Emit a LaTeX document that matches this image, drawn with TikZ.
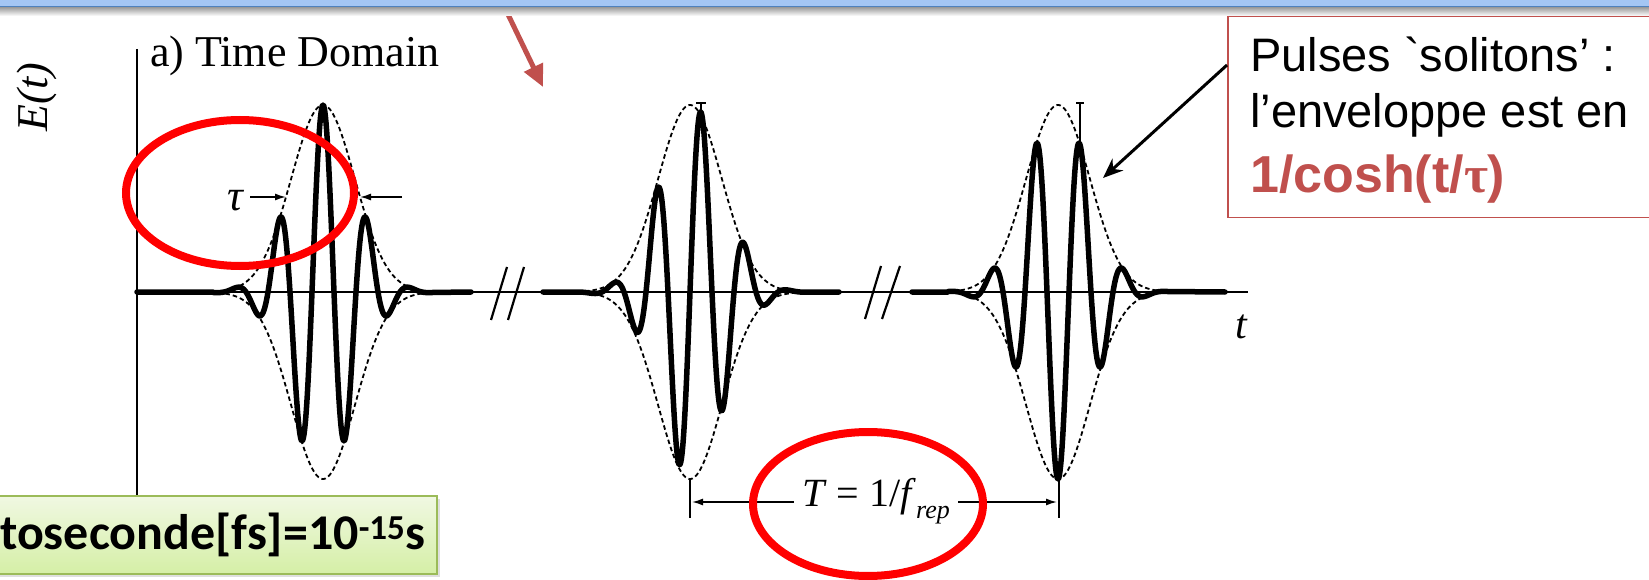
\documentclass[tikz,border=0pt]{standalone}
\usepackage{fontspec}
\setmainfont{Liberation Serif}
\newfontfamily\arialfont{Liberation Sans}
\newfontfamily\calibrifont{Carlito}
\usetikzlibrary{arrows.meta,shadows}
\definecolor{redbrown}{HTML}{C0504D}
\definecolor{ringred}{HTML}{FF0000}
\definecolor{bandblue}{HTML}{A4C6F4}
\definecolor{bandline}{HTML}{4F81BD}
\definecolor{greenfillA}{HTML}{F0F8E2}
\definecolor{greenfillB}{HTML}{D5EFA6}
\definecolor{greenedge}{HTML}{9BBB59}
\begin{document}
\begin{tikzpicture}[x=1pt,y=-1pt,
  declare function={genv(\t)=exp(-(\t*\t)/2025); carr(\t)=cos(8.181818*\t);},
  signal/.style={line width=5.5pt, line join=round, line cap=round},
  envel/.style={line width=1.8pt, dash pattern=on 4.5pt off 3pt},
  axisline/.style={line width=1.8pt},
  ring/.style={draw=ringred, line width=8pt},
  thinarrow/.style={line width=1.5pt, -{Latex[length=11pt,width=7pt]}},
  breakmark/.style={line width=2.2pt},
  figlabel/.style={inner sep=0pt, font=\fontsize{44}{50}\selectfont},
  boxtext/.style={inner sep=0pt, anchor=base west, font=\arialfont\fontsize{47}{56}\selectfont}]
\useasboundingbox (0,0) rectangle (1649,580);
\clip (0,0) rectangle (1649,580);

% axes
\draw[axisline] (137,49) -- (137,495);
\draw[axisline] (137,292) -- (1248,292);

% labels of the figure
\node[figlabel, anchor=base west] (title) at (150,67) {a) Time Domain};
\node[figlabel, rotate=90, font=\fontsize{44}{50}\selectfont\itshape] (Elab) at (37,97) {E(t)};
\node[figlabel, font=\fontsize{42}{48}\selectfont\itshape] (tlab) at (1241,327) {t};

% envelopes
\foreach \c in {323,690,1058}{
  \draw[envel] plot[domain={\c-105}:{\c+105}, samples=120] (\x,{292-187*genv(\x-\c)});
  \draw[envel] plot[domain={\c-105}:{\c+105}, samples=120] (\x,{292+187*genv(\x-\c)});
}

% pulses
\draw[signal] (137,292) -- (213,292) -- plot[domain=213:433, samples=400] (\x,{292-187*genv(\x-323)*carr(\x-323)}) -- (471,292);
\draw[signal] (543,292) -- (580,292) -- plot[domain=580:800, samples=400] (\x,{292-187*genv(\x-692)*carr(\x-701)}) -- (839,292);
\draw[signal] (912,292) -- (948,292) -- plot[domain=948:1168, samples=400] (\x,{292-187*genv(\x-1058)*carr(\x-1036)}) -- (1225,292);

% peak marks
\draw[line width=1.5pt] (701,103) -- (701,115) (696,103) -- (706,103);
\draw[line width=1.5pt] (1080,103) -- (1080,142) (1076,103) -- (1084,103);

% break marks
\draw[breakmark] (491,320) -- (507,267) (508,320) -- (524,267);
\draw[breakmark] (865,319) -- (881,266) (882,319) -- (900,266);

% tau
\node[figlabel, font=\fontsize{44}{50}\selectfont\itshape] (taulab) at (235,201) {τ};
\coordinate (tauL0) at (250,197);
\coordinate (tauL1) at (286,197);
\coordinate (tauR0) at (402,197);
\coordinate (tauR1) at (360,197);
\draw[thinarrow] (tauL0) -- (tauL1);
\draw[thinarrow] (tauR0) -- (tauR1);

% period T
\coordinate (tk1a) at (690,480);
\coordinate (tk1b) at (690,518);
\coordinate (tk2a) at (1059,480);
\coordinate (tk2b) at (1059,518);
\draw[line width=1.5pt] (tk1a) -- (tk1b);
\draw[line width=1.5pt] (tk2a) -- (tk2b);
\node[figlabel, font=\fontsize{40}{46}\selectfont] (Tlab) at (876,501) {\textit{T} = 1/\textit{f}\raisebox{-0.3em}{\fontsize{26}{26}\selectfont\itshape rep}};
\coordinate (Tl) at (692,502);
\coordinate (Tr) at (1057,502);
\draw[thinarrow] (Tlab.west |- Tl) ++(-8,0) -- (Tl);
\draw[thinarrow] (Tlab.east |- Tr) ++(8,0) -- (Tr);

% red rings
\draw[ring] (240,193) ellipse [x radius=114pt, y radius=73pt];
\draw[ring] (868,504) ellipse [x radius=115pt, y radius=72pt];

% solitons box
\node[draw=redbrown, line width=1.5pt, fill=white, minimum width=440pt, minimum height=201pt, anchor=north west, inner sep=0pt] (solbox) at (1227,16) {};
\node[boxtext] (line1) at (1250,72) {Pulses \char"60 solitons’ :};
\node[boxtext] (line2) at (1250,128) {l’enveloppe est en};
\node[boxtext, text=redbrown, font=\arialfont\bfseries\fontsize{52}{56}\selectfont] (line3) at (1250,193) {1/cosh(t/{\rmfamily\bfseries τ})};
\path (solbox.north west) ++(0,49) coordinate (astart);
\coordinate (p3pt) at (1103,178);
\draw[line width=3pt, -{Stealth[length=20pt,width=16pt]}] (astart) -- (p3pt);

% green box
\node[draw=greenedge, line width=2pt, top color=greenfillA, bottom color=greenfillB,
  minimum width=520pt, minimum height=78pt, anchor=north east, inner sep=0pt,
  drop shadow={shadow xshift=3pt, shadow yshift=-3pt, opacity=0.25}] (gbox) at (438,495) {};
\node[inner sep=0pt, anchor=base west, font=\calibrifont\bfseries\fontsize{50}{56}\selectfont] (gtext) at (0,549) {toseconde[fs]=10\textsuperscript{-15}s};

% red arrow from top
\coordinate (ra1) at (503,4);
\coordinate (ra2) at (543,87);
\draw[redbrown, line width=5pt, -{Triangle[length=22pt,width=20pt]}] (ra1) -- (ra2);

% top band
\shade[top color=black!40, bottom color=white] (0,7) rectangle (1649,16);
\fill[bandblue] (0,0) rectangle (1649,6);
\draw[bandline, line width=1.5pt] (0,6.5) -- (1649,6.5);
\end{tikzpicture}
\end{document}
